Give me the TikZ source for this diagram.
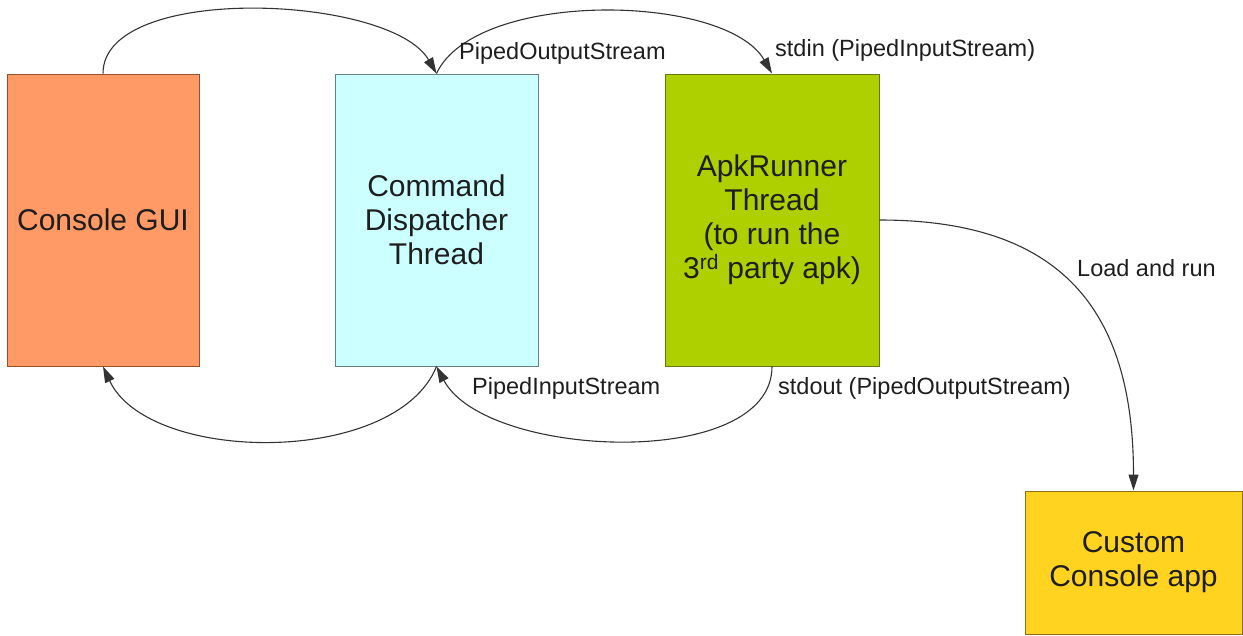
\documentclass[tikz,border=0pt]{standalone}
\usepackage{fontspec}
\setmainfont{Liberation Sans}
\usetikzlibrary{arrows.meta}
\definecolor{guiorange}{RGB}{255,153,102}
\definecolor{guiedge}{RGB}{150,80,40}
\definecolor{cmdcyan}{RGB}{204,255,255}
\definecolor{cmdedge}{RGB}{100,130,130}
\definecolor{apkgreen}{RGB}{174,207,0}
\definecolor{apkedge}{RGB}{100,120,20}
\definecolor{appgold}{RGB}{255,211,32}
\definecolor{appedge}{RGB}{140,110,20}
\definecolor{inktext}{RGB}{30,30,30}
\begin{document}
\begin{tikzpicture}[x=1pt,y=1pt,
  boxnode/.style={line width=1pt, inner sep=0pt, align=center,
    font=\fontsize{30}{34}\selectfont, text=inktext},
  lbl/.style={anchor=west, inner sep=0pt, font=\fontsize{23.5}{28}\selectfont, text=inktext},
  conn/.style={draw=black!80, line width=1.1pt, -{Triangle[length=16pt,width=10pt]}}]
\useasboundingbox (0,0) rectangle (1243,-635);

\node[boxnode, draw=guiedge, fill=guiorange, minimum width=192pt, minimum height=292pt] (gui) at (103,-220) {Console GUI};
\node[boxnode, draw=cmdedge, fill=cmdcyan, minimum width=203pt, minimum height=292pt] (cmd) at (436.5,-220) {Command\\Dispatcher\\Thread};
\node[boxnode, draw=apkedge, fill=apkgreen, minimum width=214pt, minimum height=292pt] (apk) at (772,-220) {ApkRunner\\Thread\\(to run the\\3\textsuperscript{rd} party apk)};
\node[boxnode, draw=appedge, fill=appgold, minimum width=217pt, minimum height=143pt] (app) at (1133.5,-562.5) {Custom\\Console app};

\draw[conn] (gui.north) to[out=90, in=120, looseness=0.7] (cmd.north);
\draw[conn] (cmd.north) to[out=65, in=120, looseness=0.71] (apk.north);
\draw[conn] (cmd.south) to[out=-112, in=-65, looseness=0.83] (gui.south);
\draw[conn] (apk.south) to[out=-90, in=-62, looseness=0.8] (cmd.south);
\draw[conn] (apk.east) to[out=0, in=90, looseness=1.25] (app.north);

\node[lbl] (l1) at (459,-53) {PipedOutputStream};
\node[lbl] (l2) at (775,-50) {stdin (PipedInputStream)};
\node[lbl] (l3) at (472,-388) {PipedInputStream};
\node[lbl] (l4) at (778,-388) {stdout (PipedOutputStream)};
\node[lbl] (l5) at (1077,-268) {Load and run};
\end{tikzpicture}
\end{document}
